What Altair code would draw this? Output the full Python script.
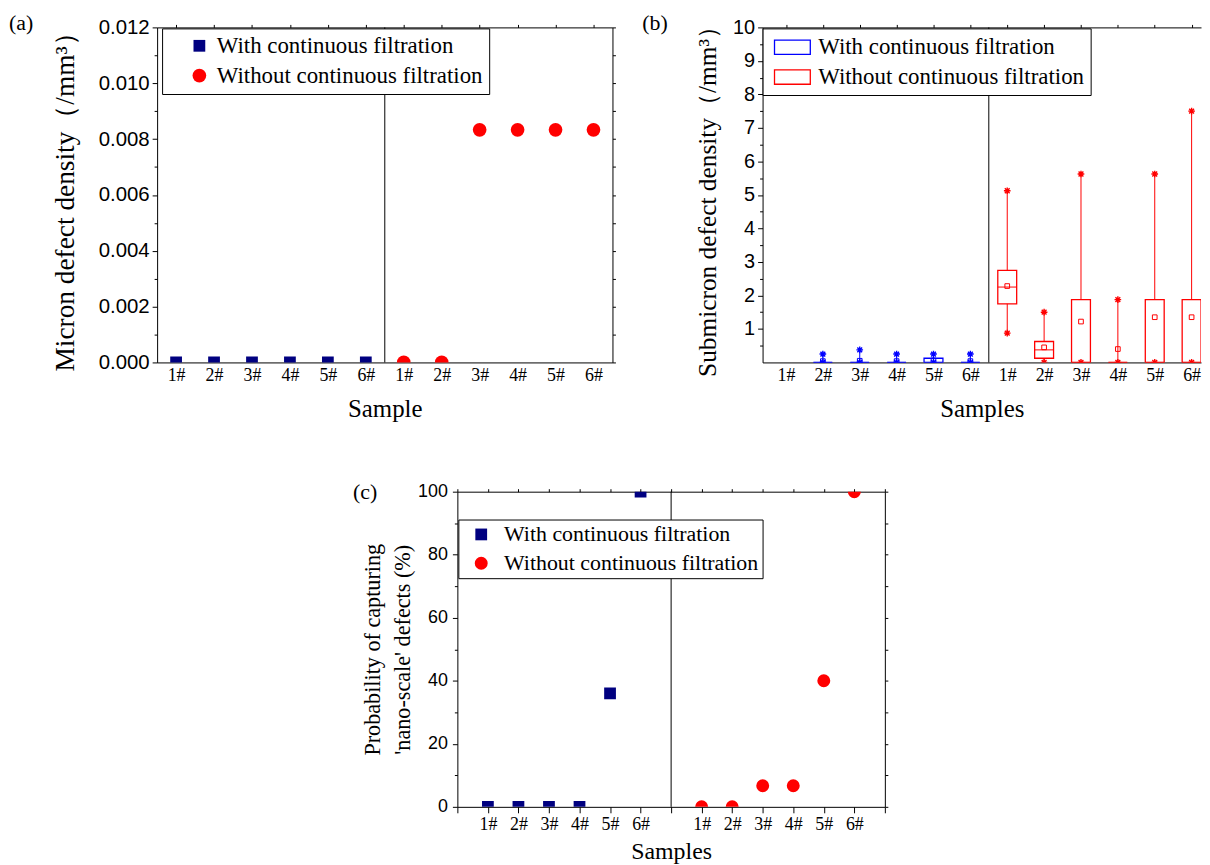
import json
import altair as alt
import pandas as pd

# ------------------------------------------------------------------ data
SERIES = ["With continuous filtration", "Without continuous filtration"]
SAMPLES = ["1#", "2#", "3#", "4#", "5#", "6#"]

# (a) micron defect density (/mm^3)
micron_with = [0.0, 0.0, 0.0, 0.0, 0.0, 0.0]
micron_without = [0.0, 0.0, 0.00833, 0.00833, 0.00833, 0.00833]

# (b) submicron defect density box statistics (/mm^3)
sub_with_min = [None, 0.0, 0.0, 0.0, 0.0, 0.0]
sub_with_q1 = [None, 0.0, 0.0, 0.0, 0.0, 0.0]
sub_with_median = [None, 0.0, 0.0, 0.0, 0.0, 0.0]
sub_with_q3 = [None, 0.0, 0.0, 0.0, 0.125, 0.0]
sub_with_max = [None, 0.25, 0.375, 0.25, 0.25, 0.25]
sub_with_mean = [None, 0.04, 0.05, 0.04, 0.06, 0.04]

sub_without_min = [0.875, 0.0, 0.0, 0.0, 0.0, 0.0]
sub_without_q1 = [1.75, 0.125, 0.0, 0.0, 0.0, 0.0]
sub_without_median = [2.25, 0.375, 0.0, 0.0, 0.0, 0.0]
sub_without_q3 = [2.75, 0.625, 1.875, 0.0, 1.875, 1.875]
sub_without_max = [5.125, 1.5, 5.625, 1.875, 5.625, 7.5]
sub_without_mean = [2.28, 0.45, 1.22, 0.40, 1.35, 1.35]

# (c) probability of capturing 'nano-scale' defects (%)
nano_with = [0, 0, 0, 0, 36, 100]
nano_without = [0, 0, 6.7, 6.7, 40, 100]

# ------------------------------------------------------------------ style
SERIF = "Liberation Serif"
SANS = "Liberation Sans"
NAVY = "#000080"
RED = "#FF0000"
BLUE = "#0000FF"
STAR = "M0,-1L0,1M-1,0L1,0M-0.72,-0.72L0.72,0.72M-0.72,0.72L0.72,-0.72"
RECT = "M-1.5,-0.6H1.5V0.6H-1.5Z"
LABELS = json.dumps(SAMPLES)


def long_df(value_lists, gap):
    rows = []
    for g, (series, vals) in enumerate(zip(SERIES, value_lists)):
        for i, (s, v) in enumerate(zip(SAMPLES, vals)):
            rows.append({"series": series, "sample": s,
                         "pos": i + 1 + g * (6 + gap), "value": v})
    return pd.DataFrame(rows)


def box_df():
    rows = []
    stats = [
        (sub_with_min, sub_with_q1, sub_with_median, sub_with_q3, sub_with_max, sub_with_mean),
        (sub_without_min, sub_without_q1, sub_without_median, sub_without_q3, sub_without_max, sub_without_mean),
    ]
    for g, (series, st) in enumerate(zip(SERIES, stats)):
        for i, s in enumerate(SAMPLES):
            rows.append({"series": series, "sample": s, "pos": i + 1 + g * 6,
                         "min": st[0][i], "q1": st[1][i], "median": st[2][i],
                         "q3": st[3][i], "max": st[4][i], "mean": st[5][i]})
    return pd.DataFrame(rows).dropna()


one = pd.DataFrame({"n": [0]})


def panel_label(text, x, y):
    return alt.Chart(pd.DataFrame({"label": [text]})).mark_text(
        align="left", baseline="middle", font=SERIF, fontSize=22, color="black"
    ).encode(text="label:N", x=alt.value(x), y=alt.value(y))


def divider(xscale, at):
    return alt.Chart(one).mark_rule(color="black", strokeWidth=1).encode(
        x=alt.XDatum(at, type="quantitative", scale=xscale, axis=None)
    )


def frame_axes(df, xfield, yfield, xscale, yscale, xticks, yminor, yall, right=True, top_tick=3):
    minor = alt.Chart(df).mark_point(opacity=0).encode(
        x=alt.X(xfield, scale=xscale, axis=alt.Axis(
            orient="top", values=xticks, labels=False, tickSize=top_tick,
            title=None, domain=True)),
        y=alt.Y(yfield, scale=yscale, axis=alt.Axis(
            orient="left", values=yminor, labels=False, tickSize=3,
            domain=False, title=None)),
    )
    layers = [minor]
    if right:
        layers.append(alt.Chart(df).mark_point(opacity=0).encode(
            y=alt.Y(yfield, scale=yscale, axis=alt.Axis(
                orient="right", values=yall, labels=False, tickSize=3, title=None)),
        ))
    return layers


PAD_A = "\u2002\u00a0"
PAD_B = "\u2002\u00a0"

# ------------------------------------------------------------------ (a)
df_a = long_df([micron_with, micron_without], gap=0)
xa = alt.Scale(domain=[0.5, 12.5], nice=False, zero=False)
ya = alt.Scale(domain=[0, 0.012], nice=False)
ya_major = [i * 0.002 for i in range(7)]
ya_minor = [i * 0.002 + 0.001 for i in range(6)]

legend_points = dict(
    title=None, orient="none", direction="vertical", fillColor="white",
    strokeColor="black", labelFont=SERIF, labelColor="black", labelLimit=0,
    symbolStrokeWidth=0,
)

legend_a = alt.Legend(legendX=5, legendY=1, padding=6, labelFontSize=23,
                      symbolSize=160, symbolOffset=20, labelOffset=6,
                      rowPadding=6, labelExpr=f"datum.label + '{PAD_A}'",
                      **legend_points)

pts_a = alt.Chart(df_a).mark_point(filled=True, opacity=1, clip=True).encode(
    x=alt.X("pos:Q", scale=xa, axis=alt.Axis(
        values=list(range(1, 13)), labelExpr=f"{LABELS}[(datum.value - 1) % 6]",
        ticks=False, tickSize=0, labelPadding=4, labelFont=SERIF, labelFontSize=18,
        labelOverlap=False, title="Sample", titleFont=SERIF, titleFontSize=25,
        titlePadding=12)),
    y=alt.Y("value:Q", scale=ya, axis=alt.Axis(
        values=ya_major, format=".3f", tickSize=5, labelPadding=3, labelFont=SANS,
        labelFontSize=20.5, title="Micron defect density（/mm³）", titleFont=SERIF,
        titleFontSize=27.5, titlePadding=19)),
    color=alt.Color("series:N", scale=alt.Scale(domain=SERIES, range=[NAVY, RED]),
                    legend=legend_a),
    shape=alt.Shape("series:N", scale=alt.Scale(domain=SERIES, range=["square", "circle"]),
                    legend=legend_a),
    size=alt.Size("series:N", scale=alt.Scale(domain=SERIES, range=[140, 190]), legend=None),
)

chart_a = alt.layer(
    divider(xa, 6.5), pts_a,
    *frame_axes(df_a, "pos:Q", "value:Q", xa, ya, list(range(1, 13)), ya_minor,
                [i * 0.001 for i in range(13)]),
    panel_label("(a)", -149, -4),
).resolve_axis(x="independent", y="independent").properties(width=458, height=337)

# ------------------------------------------------------------------ (b)
df_b = box_df()
xb = alt.Scale(domain=[0.5, 12.12], nice=False, zero=False)
yb = alt.Scale(domain=[0, 10], nice=False)
sc_b = alt.Scale(domain=SERIES, range=[BLUE, RED])

xb_main = alt.X("pos:Q", scale=xb, axis=alt.Axis(
    values=list(range(1, 13)), labelExpr=f"{LABELS}[(datum.value - 1) % 6]",
    ticks=False, tickSize=0, labelPadding=4, labelFont=SERIF, labelFontSize=18,
    labelOverlap=False, title="Samples", titleFont=SERIF, titleFontSize=25,
    titlePadding=12))
xb_none = alt.X("pos:Q", scale=xb, axis=None)


def yb_none(f):
    return alt.Y(f, scale=yb, axis=None)


color_b = alt.Color("series:N", scale=sc_b)

box_b = alt.Chart(df_b).mark_bar(filled=False, size=19, strokeWidth=1.3, clip=True).encode(
    x=xb_main,
    y=alt.Y("q1:Q", scale=yb, axis=alt.Axis(
        values=list(range(1, 11)), tickSize=5, labelPadding=3, labelFont=SANS,
        labelFontSize=20, title="Submicron defect density（/mm³）", titleFont=SERIF,
        titleFontSize=25.5, titlePadding=12)),
    y2="q3:Q",
    color=alt.Color("series:N", scale=sc_b, legend=alt.Legend(
        title=None, orient="none", direction="vertical", fillColor="white",
        strokeColor="black", labelFont=SERIF, labelColor="black", labelLimit=0,
        legendX=0, legendY=1, padding=6, labelFontSize=23,
        symbolType=RECT, symbolSize=576, symbolStrokeWidth=1.3,
        symbolOffset=11, labelOffset=13, rowPadding=5,
        labelExpr=f"datum.label + '{PAD_B}'")),
)
whisk_lo = alt.Chart(df_b).mark_rule(strokeWidth=1, clip=True).encode(
    x=xb_none, y=yb_none("min:Q"), y2="q1:Q", color=color_b)
whisk_hi = alt.Chart(df_b).mark_rule(strokeWidth=1, clip=True).encode(
    x=xb_none, y=yb_none("q3:Q"), y2="max:Q", color=color_b)
med_b = alt.Chart(df_b).mark_rule(strokeWidth=1, xOffset=-9.5, x2Offset=9.5, clip=True).encode(
    x=xb_none, x2="pos:Q", y=yb_none("median:Q"), color=color_b)
mean_b = alt.Chart(df_b).mark_point(shape="square", filled=False, size=22, strokeWidth=1,
                                    opacity=1, clip=True).encode(
    x=xb_none, y=yb_none("mean:Q"), color=color_b)
max_b = alt.Chart(df_b).mark_point(shape=STAR, filled=False, size=45, strokeWidth=1.4,
                                   opacity=1, clip=True).encode(
    x=xb_none, y=yb_none("max:Q"), color=color_b)
min_b = alt.Chart(df_b).mark_point(shape=STAR, filled=False, size=45, strokeWidth=1.4,
                                   opacity=1, clip=True).encode(
    x=xb_none, y=yb_none("min:Q"), color=color_b)

chart_b = alt.layer(
    box_b, divider(xb, 6.5), whisk_lo, whisk_hi, med_b, mean_b, max_b, min_b,
    *frame_axes(df_b, "pos:Q", "q1:Q", xb, yb, list(range(1, 13)),
                [i + 0.5 for i in range(10)], None, right=False),
    panel_label("(b)", -121, -4),
).resolve_axis(x="independent", y="independent").properties(width=441, height=337)

# ------------------------------------------------------------------ (c)
df_c = long_df([nano_with, nano_without], gap=1)
xc = alt.Scale(domain=[0, 14], nice=False, zero=False)
yc = alt.Scale(domain=[0, 100], nice=False)

pts_c = alt.Chart(df_c).mark_point(filled=True, opacity=1, clip=True).encode(
    x=alt.X("pos:Q", scale=xc, axis=alt.Axis(
        values=list(range(0, 15)),
        labelExpr=f"datum.value % 7 == 0 ? '' : {LABELS}[(datum.value % 7) - 1]",
        tickSize=6, labelPadding=3, labelFont=SERIF, labelFontSize=18,
        labelOverlap=False, title="Samples", titleFont=SERIF, titleFontSize=24,
        titlePadding=6)),
    y=alt.Y("value:Q", scale=yc, axis=alt.Axis(
        values=[0, 20, 40, 60, 80, 100], tickSize=5, labelPadding=5, labelFont=SANS,
        labelFontSize=18,
        title=["Probability of capturing", "'nano-scale' defects (%)"],
        titleFont=SERIF, titleFontSize=22.3, titleLineHeight=30, titlePadding=3)),
    color=alt.Color("series:N", scale=alt.Scale(domain=SERIES, range=[NAVY, RED]),
                    legend=alt.Legend(legendX=1, legendY=28, padding=4, labelFontSize=22,
                                      symbolSize=150, symbolOffset=8, labelOffset=12,
                                      rowPadding=7, **legend_points)),
    shape=alt.Shape("series:N", scale=alt.Scale(domain=SERIES, range=["square", "circle"])),
    size=alt.Size("series:N", scale=alt.Scale(domain=SERIES, range=[140, 170]), legend=None),
)

chart_c = alt.layer(
    divider(xc, 7), pts_c,
    *frame_axes(df_c, "pos:Q", "value:Q", xc, yc, list(range(0, 15)),
                [10, 30, 50, 70, 90], list(range(0, 101, 10))),
    panel_label("(c)", -105, 0),
).resolve_axis(x="independent", y="independent").properties(width=430, height=317)

# empty spacer that shifts panel (c) to the right
spacer = alt.Chart(one).mark_point(opacity=0, size=1).encode(
    x=alt.value(0), y=alt.value(0)).properties(width=195, height=10)

RES = dict(color="independent", shape="independent", size="independent")

top = alt.hconcat(chart_a, chart_b, spacing=25).resolve_scale(**RES).resolve_legend(
    color="independent", shape="independent")
bottom = alt.hconcat(spacer, chart_c, spacing=0).resolve_scale(**RES).resolve_legend(
    color="independent", shape="independent")

chart = alt.vconcat(top, bottom, spacing=58).resolve_scale(**RES).resolve_legend(
    color="independent", shape="independent"
).properties(
    padding={"left": 0, "top": 1, "right": 0, "bottom": 0}
).configure_view(stroke="transparent").configure_axis(
    grid=False, domainColor="black", tickColor="black", labelColor="black",
    titleColor="black", titleFontWeight="normal", domainWidth=1, tickWidth=1,
)

chart.save("out.html", embed_options={"renderer": "svg", "actions": False})
